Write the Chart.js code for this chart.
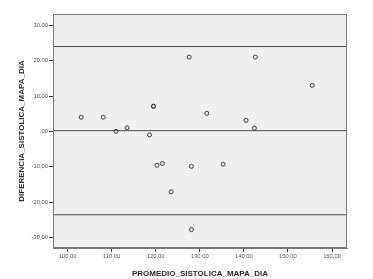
<!DOCTYPE html>
<html>
<head>
<meta charset="utf-8">
<script src="https://cdn.jsdelivr.net/npm/chart.js@4.4.1/dist/chart.umd.min.js"></script>
<style>
  html, body { margin: 0; padding: 0; background: #ffffff; }
  #wrap { width: 373px; height: 279px; }
</style>
</head>
<body>
<div id="wrap"><canvas id="bland" width="373" height="279"></canvas></div>
<script>
  // Bland-Altman: promedio vs diferencia (sistolica, MAPA dia)
  const promedio = [103.1, 108.1, 111.0, 113.5, 118.6, 119.5, 119.5, 120.3, 121.5, 123.5,
                    127.6, 128.1, 128.1, 131.6, 135.3, 140.5, 142.6, 142.4, 155.5];
  const diferencia = [4.0, 4.0, 0.0, 1.0, -1.0, 7.1, 7.1, -9.6, -9.1, -17.1,
                      21.0, -9.9, -27.8, 5.1, -9.3, 3.1, 21.0, 0.9, 13.0];
  const refLines = [24.0, 0.2, -23.6];
  const xTicks = [100, 110, 120, 130, 140, 150, 160];
  const yTicks = [-30, -20, -10, 0, 10, 20, 30];
  const xRange = [96.7, 163.4];
  const yRange = [-33.0, 33.2];

  function fmtNum(v) {
    if (v === 0) return ",00";
    return v.toFixed(2).replace(".", ",");
  }

  const plotFrame = {
    id: "plotFrame",
    beforeDatasetsDraw(chart) {
      const { ctx, chartArea: a } = chart;
      ctx.save();
      ctx.fillStyle = "#f0f0f0";
      ctx.fillRect(a.left, a.top, a.right - a.left, a.bottom - a.top);
      ctx.restore();
    },
    afterDatasetsDraw(chart) {
      const { ctx, chartArea: a } = chart;
      ctx.save();
      ctx.strokeStyle = "#7a7a7a";
      ctx.lineWidth = 1;
      ctx.strokeRect(a.left + 0.5, a.top + 0.5, a.right - a.left - 1, a.bottom - a.top - 1);
      ctx.restore();
    },
  };

  const points = promedio.map((x, i) => ({ x, y: diferencia[i] }));
  const lineSets = refLines.map((v) => ({
    type: "line",
    data: [{ x: xRange[0], y: v }, { x: xRange[1], y: v }],
    borderColor: "#4d4d4d",
    borderWidth: 1,
    pointRadius: 0,
    fill: false,
  }));

  const tickFont = { family: "Liberation Sans, Arial, sans-serif", size: 5.8 };
  const titleFont = { family: "Liberation Sans, Arial, sans-serif", size: 8, weight: "bold" };

  new Chart(document.getElementById("bland"), {
    type: "scatter",
    data: {
      datasets: [
        ...lineSets,
        {
          data: points,
          pointRadius: 2,
          pointBorderWidth: 1,
          pointBorderColor: "#3a3a3a",
          pointBackgroundColor: "rgba(0,0,0,0)",
        },
      ],
    },
    options: {
      responsive: false,
      animation: false,
      events: [],
      layout: { padding: { left: 0, top: 14, right: 26, bottom: 0 } },
      plugins: { legend: { display: false }, tooltip: { enabled: false } },
      scales: {
        x: {
          type: "linear",
          min: xRange[0],
          max: xRange[1],
          afterBuildTicks: (s) => { s.ticks = xTicks.map((v) => ({ value: v })); },
          afterFit: (s) => { s.height = 31; },
          ticks: { callback: fmtNum, font: tickFont, color: "#555", padding: 1, maxRotation: 0, autoSkip: false },
          grid: { drawOnChartArea: false, drawTicks: true, tickLength: 4, tickColor: "#333" },
          border: { display: true, color: "#7a7a7a" },
          title: { display: true, text: "PROMEDIO_SISTOLICA_MAPA_DIA", font: titleFont, color: "#2b2b2b", padding: { top: 8, bottom: 0 } },
        },
        y: {
          type: "linear",
          min: yRange[0],
          max: yRange[1],
          afterBuildTicks: (s) => { s.ticks = yTicks.map((v) => ({ value: v })); },
          afterFit: (s) => { s.width = 53; },
          ticks: { callback: fmtNum, font: tickFont, color: "#555", padding: 1, autoSkip: false },
          grid: { drawOnChartArea: false, drawTicks: true, tickLength: 4, tickColor: "#333" },
          border: { display: true, color: "#7a7a7a" },
          title: { display: true, text: "DIFERENCIA_SISTOLICA_MAPA_DIA", font: titleFont, color: "#2b2b2b", padding: { top: 17, bottom: 0 } },
        },
      },
    },
    plugins: [plotFrame],
  });
</script>
</body>
</html>
